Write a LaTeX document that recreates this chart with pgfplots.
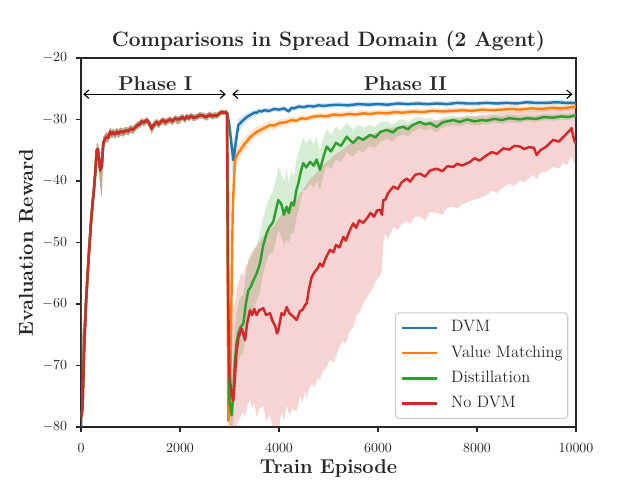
\documentclass[border=0pt]{standalone}
\usepackage{pgfplots}
\pgfplotsset{compat=1.18}
\usepackage{pgfplotstable}
\usepgfplotslibrary{fillbetween}
\usetikzlibrary{arrows.meta}

\definecolor{tabblue}{HTML}{1F77B4}
\definecolor{taborange}{HTML}{FF7F0E}
\definecolor{tabgreen}{HTML}{2CA02C}
\definecolor{tabred}{HTML}{D62728}
\definecolor{ink}{HTML}{262626}
\definecolor{legframe}{HTML}{CCCCCC}

% Phase I: all methods share the same pre-training run
\pgfplotstableread{
x y lo hi
0 -78.5 -81.0 -53.0
30 -77.0 -80.0 -66.0
60 -68.0 -71.0 -62.0
100 -60.0 -62.5 -57.0
135 -55.0 -57.0 -53.0
170 -50.5 -52.0 -49.0
200 -47.0 -48.5 -45.5
230 -44.0 -45.5 -42.5
260 -41.5 -43.0 -40.0
290 -38.5 -40.0 -37.0
317 -35.0 -36.5 -34.0
340 -34.8 -36.0 -33.8
365 -36.5 -38.5 -35.0
390 -38.3 -41.0 -36.5
420 -37.5 -42.5 -35.5
451 -33.8 -35.0 -32.8
480 -33.2 -34.0 -32.4
519 -32.8 -33.6 -32.0
550 -33.0 -33.8 -32.3
586 -32.0 -32.8 -31.3
620 -32.4 -33.1 -31.7
650 -32.1 -32.8 -31.5
687 -32.4 -33.2 -31.7
720 -32.0 -32.7 -31.4
760 -32.3 -33.0 -31.6
800 -31.9 -32.6 -31.3
855 -32.1 -32.8 -31.5
900 -31.8 -32.4 -31.2
956 -31.9 -32.6 -31.3
1000 -31.5 -32.1 -30.9
1050 -31.7 -32.4 -31.1
1091 -31.3 -31.9 -30.7
1150 -30.9 -31.5 -30.3
1200 -30.7 -31.3 -30.1
1226 -30.3 -30.9 -29.8
1270 -30.5 -31.1 -30.0
1327 -30.1 -30.7 -29.6
1380 -30.6 -31.3 -30.0
1428 -31.5 -32.4 -30.8
1470 -30.9 -31.5 -30.3
1529 -30.4 -31.0 -29.9
1570 -30.8 -31.4 -30.2
1620 -30.3 -30.9 -29.8
1663 -30.1 -30.7 -29.6
1700 -30.5 -31.1 -29.9
1750 -30.2 -30.8 -29.7
1798 -30.0 -30.6 -29.5
1850 -30.3 -30.9 -29.8
1900 -29.8 -30.4 -29.3
1950 -30.0 -30.8 -29.5
2000 -29.9 -30.6 -29.4
2050 -29.6 -30.1 -29.1
2100 -30.0 -30.6 -29.5
2135 -29.5 -30.0 -29.0
2180 -29.8 -30.3 -29.3
2220 -29.4 -29.9 -28.9
2270 -29.7 -30.3 -29.2
2337 -29.6 -30.1 -29.1
2400 -29.3 -29.8 -28.8
2471 -29.4 -29.9 -28.9
2530 -29.6 -30.2 -29.1
2606 -29.2 -29.7 -28.7
2650 -29.5 -30.0 -29.0
2700 -29.3 -29.8 -28.8
2741 -29.4 -29.9 -28.9
2800 -29.0 -29.5 -28.6
2842 -28.8 -29.2 -28.4
2900 -28.9 -29.3 -28.5
2950 -28.8 -29.2 -28.4
}\phaseone

% Phase II: DVM
\pgfplotstableread{
x y lo hi
2950 -28.8 -29.2 -28.4
2990 -30.5 -31.5 -29.6
3044 -34.4 -37.5 -32.5
3077 -36.6 -40.0 -33.5
3125 -33.9 -36.5 -32.0
3178 -30.9 -32.2 -29.9
3279 -30.1 -30.9 -29.4
3350 -29.6 -30.3 -29.0
3414 -29.3 -29.9 -28.8
3500 -28.9 -29.4 -28.5
3550 -28.9 -29.3 -28.5
3600 -28.6 -29.0 -28.2
3650 -28.7 -29.1 -28.3
3700 -28.5 -28.9 -28.1
3800 -28.6 -29.0 -28.2
3900 -28.3 -28.7 -27.9
4000 -28.4 -28.8 -28.0
4100 -28.2 -28.6 -27.8
4200 -28.7 -29.1 -28.3
4250 -28.1 -28.5 -27.7
4300 -28.2 -28.6 -27.8
4400 -27.9 -28.3 -27.5
4500 -28.0 -28.4 -27.6
4600 -27.8 -28.2 -27.4
4700 -27.9 -28.3 -27.5
4800 -27.7 -28.1 -27.3
4900 -27.8 -28.2 -27.4
5000 -27.7 -28.1 -27.3
5200 -27.6 -28.0 -27.2
5400 -27.7 -28.1 -27.3
5600 -27.5 -27.9 -27.1
5800 -27.6 -28.0 -27.2
6000 -27.5 -27.9 -27.1
6200 -27.6 -28.0 -27.2
6400 -27.4 -27.8 -27.0
6600 -27.5 -27.9 -27.1
6800 -27.4 -27.8 -27.0
7000 -27.5 -27.9 -27.1
7200 -27.4 -27.8 -27.0
7400 -27.5 -27.9 -27.1
7600 -27.3 -27.7 -26.9
7800 -27.4 -27.8 -27.0
8000 -27.4 -27.8 -27.0
8200 -27.3 -27.7 -26.9
8400 -27.4 -27.8 -27.0
8600 -27.3 -27.7 -26.9
8800 -27.4 -27.8 -27.0
9000 -27.2 -27.6 -26.8
9200 -27.3 -27.7 -26.9
9400 -27.3 -27.7 -26.9
9600 -27.2 -27.6 -26.8
9800 -27.3 -27.7 -26.9
10000 -27.3 -27.7 -26.9
}\dvm

% Phase II: Value Matching
\pgfplotstableread{
x y lo hi
2950 -28.8 -29.2 -28.4
2975 -79.0 -82.0 -74.0
3010 -76.0 -80.0 -71.0
3065 -45.0 -48.0 -42.0
3090 -39.5 -41.5 -37.5
3115 -36.5 -38.0 -35.0
3150 -35.8 -37.2 -34.6
3200 -35.2 -36.5 -34.1
3250 -34.6 -35.7 -33.5
3300 -34.0 -35.0 -33.0
3350 -33.6 -34.6 -32.6
3400 -33.0 -34.0 -32.1
3475 -32.5 -33.4 -31.6
3550 -32.0 -32.8 -31.2
3650 -31.6 -32.4 -30.9
3750 -31.2 -31.9 -30.5
3820 -30.9 -31.6 -30.2
3900 -31.0 -31.7 -30.3
4000 -30.6 -31.2 -30.0
4155 -30.4 -31.0 -29.8
4250 -30.1 -30.7 -29.5
4350 -30.2 -30.8 -29.6
4450 -29.8 -30.3 -29.3
4550 -29.9 -30.4 -29.4
4650 -29.6 -30.1 -29.1
4830 -29.4 -29.9 -28.9
4950 -29.5 -30.0 -29.0
5100 -29.2 -29.7 -28.7
5250 -29.3 -29.8 -28.8
5400 -29.1 -29.6 -28.6
5550 -29.2 -29.7 -28.7
5700 -29.0 -29.5 -28.5
5850 -29.1 -29.6 -28.6
6000 -28.9 -29.4 -28.4
6175 -29.0 -29.5 -28.5
6350 -28.8 -29.3 -28.3
6500 -28.9 -29.4 -28.4
6700 -28.7 -29.2 -28.2
6900 -28.8 -29.3 -28.3
7100 -28.6 -29.1 -28.1
7300 -28.7 -29.2 -28.2
7520 -28.6 -29.1 -28.1
7700 -28.5 -29.0 -28.0
7900 -28.6 -29.1 -28.1
8100 -28.4 -28.9 -27.9
8300 -28.5 -29.0 -28.0
8500 -28.4 -28.9 -27.9
8700 -28.3 -28.8 -27.8
8870 -28.4 -28.9 -27.9
9100 -28.2 -28.7 -27.7
9300 -28.3 -28.8 -27.8
9500 -28.1 -28.6 -27.6
9700 -28.2 -28.7 -27.7
9900 -28.0 -28.5 -27.5
10000 -27.9 -28.4 -27.4
}\valuematch

% Phase II: Distillation
\pgfplotstableread{
x y lo hi
2950 -28.8 -29.2 -28.4
2975 -62.0 -70.0 -54.0
3000 -76.0 -80.0 -70.0
3045 -78.1 -82.0 -72.0
3080 -74.0 -79.0 -68.0
3110 -69.2 -74.0 -64.0
3140 -66.5 -71.0 -61.5
3178 -64.8 -69.5 -60.0
3220 -63.8 -68.5 -59.0
3280 -63.2 -68.0 -58.5
3330 -60.0 -65.0 -55.5
3380 -57.8 -62.5 -53.0
3430 -57.2 -62.0 -52.5
3480 -56.2 -61.0 -51.5
3550 -55.0 -59.5 -50.5
3616 -53.4 -58.0 -48.5
3680 -50.5 -55.0 -46.0
3750 -48.5 -53.0 -44.0
3800 -47.6 -52.0 -43.0
3885 -46.6 -51.5 -41.5
3930 -45.0 -50.0 -40.0
3986 -43.1 -48.0 -37.8
4050 -43.8 -49.0 -39.0
4100 -45.5 -50.5 -40.0
4155 -44.2 -49.5 -38.0
4200 -45.2 -50.0 -40.5
4250 -43.5 -48.5 -38.0
4300 -44.0 -48.5 -39.5
4350 -41.5 -46.0 -36.5
4390 -40.4 -45.0 -35.5
4440 -38.5 -43.0 -34.0
4490 -37.1 -41.5 -33.0
4550 -37.8 -41.5 -34.0
4626 -36.9 -40.5 -33.0
4700 -37.5 -41.0 -34.0
4760 -36.5 -40.0 -33.0
4828 -38.2 -41.5 -35.0
4900 -36.0 -39.0 -33.0
4964 -34.4 -37.5 -31.5
5050 -35.2 -38.0 -32.5
5150 -33.8 -36.5 -31.2
5250 -34.3 -37.0 -31.8
5368 -32.8 -35.3 -30.5
5450 -33.5 -35.8 -31.3
5500 -33.8 -36.0 -31.6
5600 -32.9 -35.0 -30.9
5700 -33.3 -35.3 -31.3
5838 -32.5 -34.3 -30.8
5950 -32.9 -34.6 -31.2
6050 -32.0 -33.6 -30.5
6175 -31.7 -33.2 -30.3
6300 -32.1 -33.5 -30.8
6400 -31.4 -32.7 -30.2
6511 -31.2 -32.4 -30.0
6600 -31.6 -32.8 -30.5
6700 -30.9 -32.0 -29.9
6848 -30.4 -31.4 -29.5
6950 -30.8 -31.8 -29.9
7050 -30.6 -31.5 -29.7
7185 -31.2 -32.1 -30.3
7300 -30.5 -31.3 -29.7
7400 -30.3 -31.1 -29.5
7520 -30.1 -30.9 -29.4
7650 -30.4 -31.1 -29.7
7800 -30.0 -30.7 -29.3
7950 -30.3 -31.0 -29.6
8100 -30.1 -30.8 -29.5
8196 -30.2 -30.8 -29.6
8350 -29.9 -30.5 -29.3
8500 -30.1 -30.7 -29.5
8650 -29.8 -30.4 -29.2
8870 -30.0 -30.6 -29.4
9000 -29.8 -30.3 -29.3
9200 -29.9 -30.4 -29.4
9350 -29.6 -30.1 -29.1
9540 -29.7 -30.2 -29.2
9700 -29.5 -30.0 -29.0
9850 -29.6 -30.1 -29.1
10000 -29.3 -29.8 -28.8
}\distill

% Phase II: No DVM
\pgfplotstableread{
x y lo hi
2950 -28.8 -29.2 -28.4
2975 -60.0 -68.0 -52.0
3000 -72.0 -80.0 -63.0
3050 -75.0 -82.0 -62.0
3077 -75.7 -83.0 -61.0
3110 -72.0 -82.0 -60.0
3140 -68.0 -80.0 -58.0
3180 -65.5 -79.0 -56.5
3245 -64.0 -78.0 -55.0
3280 -64.8 -77.5 -55.5
3313 -65.9 -78.5 -54.0
3360 -63.0 -76.5 -53.5
3414 -61.0 -75.5 -52.0
3460 -61.8 -77.0 -51.5
3500 -60.8 -76.0 -51.0
3550 -61.8 -78.5 -50.5
3600 -61.0 -77.0 -50.0
3683 -60.7 -76.5 -49.0
3740 -61.8 -79.0 -48.5
3818 -61.5 -78.0 -48.0
3870 -62.8 -80.0 -47.5
3920 -63.5 -79.5 -47.0
3960 -64.8 -81.0 -46.5
3990 -64.2 -80.5 -46.0
4050 -61.5 -77.5 -45.5
4100 -61.8 -79.0 -45.0
4155 -60.5 -76.5 -44.5
4210 -61.5 -78.0 -44.0
4280 -62.0 -77.0 -43.5
4357 -62.6 -77.5 -43.0
4420 -61.2 -75.0 -42.0
4480 -60.9 -76.0 -41.5
4530 -60.1 -74.0 -41.0
4560 -59.9 -75.5 -40.5
4600 -57.8 -74.0 -40.0
4660 -55.6 -73.0 -39.5
4720 -54.8 -73.5 -39.0
4780 -54.2 -72.0 -38.5
4828 -53.4 -72.4 -38.0
4880 -53.9 -71.0 -37.5
4950 -52.4 -70.5 -37.0
5030 -51.2 -69.0 -36.5
5100 -51.6 -69.5 -36.0
5150 -50.4 -68.6 -35.6
5220 -50.8 -67.0 -35.3
5300 -49.1 -66.0 -34.8
5350 -49.7 -66.5 -34.5
5420 -48.2 -64.5 -34.0
5500 -46.9 -63.7 -33.6
5560 -47.6 -62.0 -33.4
5620 -46.4 -61.5 -33.2
5700 -46.8 -60.0 -33.0
5772 -46.1 -59.0 -32.7
5850 -45.2 -58.0 -32.5
5920 -45.8 -57.0 -32.3
5980 -44.8 -56.0 -32.1
6040 -44.7 -55.5 -32.0
6080 -45.5 -54.5 -31.9
6107 -43.1 -50.0 -31.8
6150 -43.0 -48.5 -31.6
6200 -42.0 -49.5 -31.5
6310 -40.9 -47.5 -31.3
6400 -41.3 -48.0 -31.2
6480 -40.2 -47.0 -31.0
6580 -39.6 -46.5 -30.9
6650 -40.1 -47.0 -30.8
6750 -39.0 -45.8 -30.6
6848 -38.8 -45.8 -30.5
6950 -39.3 -46.5 -30.4
7050 -38.3 -45.0 -30.3
7185 -38.0 -45.2 -30.1
7300 -38.4 -45.5 -30.0
7400 -37.6 -44.3 -29.9
7520 -37.7 -44.2 -29.8
7600 -37.2 -44.5 -29.7
7700 -37.5 -43.8 -29.6
7858 -36.9 -43.3 -29.5
7950 -36.3 -43.0 -29.4
8050 -36.7 -42.8 -29.3
8196 -35.8 -42.3 -29.2
8300 -35.3 -41.5 -29.1
8400 -35.6 -42.0 -29.0
8531 -34.7 -41.0 -28.9
8650 -34.9 -40.5 -28.8
8750 -34.3 -40.8 -28.8
8870 -34.4 -39.9 -28.7
8950 -34.8 -40.2 -28.7
9050 -34.5 -39.5 -28.6
9150 -34.6 -39.0 -28.6
9205 -35.8 -39.8 -28.5
9280 -35.0 -38.7 -28.5
9400 -34.4 -38.5 -28.4
9540 -33.3 -37.7 -28.4
9650 -33.6 -38.0 -28.3
9750 -32.8 -37.0 -28.3
9811 -32.3 -37.5 -28.2
9870 -31.8 -36.5 -28.2
9910 -31.4 -36.0 -28.1
9960 -33.3 -37.0 -28.1
10000 -34.0 -37.5 -28.0
}\nodvm

% mean curve with its shaded confidence band
\newcommand{\drawrun}[3]{%
  \addplot[draw=none, forget plot, name path=hi#3] table[x=x, y=hi] {#1};
  \addplot[draw=none, forget plot, name path=lo#3] table[x=x, y=lo] {#1};
  \addplot[fill=#2, fill opacity=0.2, draw=none, forget plot] fill between[of=hi#3 and lo#3];
  \addplot[color=#2, line width=1.75pt, line join=round, forget plot] table[x=x, y=y] {#1};
}

\tikzset{barb/.tip={Straight Barb[length=3.5pt,width=6pt,line width=0.8pt]}}

\begin{document}
\begin{tikzpicture}
\begin{axis}[
  at={(0,0)}, anchor=south west,
  scale only axis, width=356.4pt, height=265.7pt,
  xmin=0, xmax=10000, ymin=-80, ymax=-20,
  xtick={0,2000,...,10000}, ytick={-80,-70,...,-20},
  scaled x ticks=false,
  xticklabel style={/pgf/number format/1000 sep={}, yshift=-4.8pt},
  yticklabel style={xshift=-3pt},
  tick align=outside, xtick pos=lower, ytick pos=left,
  major tick length=3.5pt,
  every tick/.style={ink, line width=1.1pt},
  axis line style={ink, line width=1.25pt},
  ticklabel style={font=\fontsize{10}{12}\selectfont, color=ink},
  title={Comparisons in Spread Domain (2 Agent)},
  title style={font=\fontsize{15}{18}\selectfont\bfseries, color=ink,
    at={(axis description cs:0.5,1.0305)}, anchor=base, yshift=-6pt},
  xlabel={Train Episode}, ylabel={Evaluation Reward},
  label style={font=\fontsize{14.4}{17}\selectfont\bfseries, color=ink},
  xlabel style={at={(axis description cs:0.5,-0.1272)}, anchor=base},
  ylabel style={at={(axis description cs:-0.0971,0.5)}, anchor=base},
  legend style={at={(axis description cs:0.9844,0.0217)}, anchor=south east,
    font=\fontsize{11.9}{14}\selectfont, text=ink,
    draw=legframe, line width=0.8pt, rounded corners=2.5pt,
    fill=white, fill opacity=0.8, text opacity=1,
    inner xsep=3.6pt, inner ysep=5.2pt, row sep=7.2pt, column sep=9.1pt,
    nodes={inner sep=0pt, text height=8.5pt, text depth=2.5pt},
    cells={anchor=west}},
  legend image code/.code={\draw[#1] (0pt,0pt) -- (25.7pt,0pt);},
]
\addlegendimage{color=tabblue, line width=1.75pt}
\addlegendimage{color=taborange, line width=1.75pt}
\addlegendimage{color=tabgreen, line width=1.75pt}
\addlegendimage{color=tabred, line width=1.75pt}

\drawrun{\phaseone}{tabblue}{pa}
\drawrun{\dvm}{tabblue}{pb}
\drawrun{\phaseone}{taborange}{oa}
\drawrun{\valuematch}{taborange}{ob}
\drawrun{\phaseone}{tabgreen}{ga}
\drawrun{\distill}{tabgreen}{gb}
\drawrun{\phaseone}{tabred}{ra}
\drawrun{\nodvm}{tabred}{rb}

\draw[barb-barb, line width=0.8pt, black] (axis cs:45,-25.9) -- (axis cs:2925,-25.9);
\draw[barb-barb, line width=0.8pt, black] (axis cs:3055,-25.9) -- (axis cs:9930,-25.9);
\node[font=\fontsize{14.4}{17}\selectfont\bfseries, text=ink, anchor=base]
  at (axis cs:1500,-25.3) {Phase I};
\node[font=\fontsize{14.4}{17}\selectfont\bfseries, text=ink, anchor=base]
  at (axis cs:6550,-25.3) {Phase II};

\legend{DVM, Value Matching, Distillation, No DVM}
\end{axis}
% fixed page frame around the axis box
\pgfresetboundingbox
\path (-58.32pt,-38.16pt) rectangle (402.48pt,307.44pt);
\end{tikzpicture}
\end{document}
